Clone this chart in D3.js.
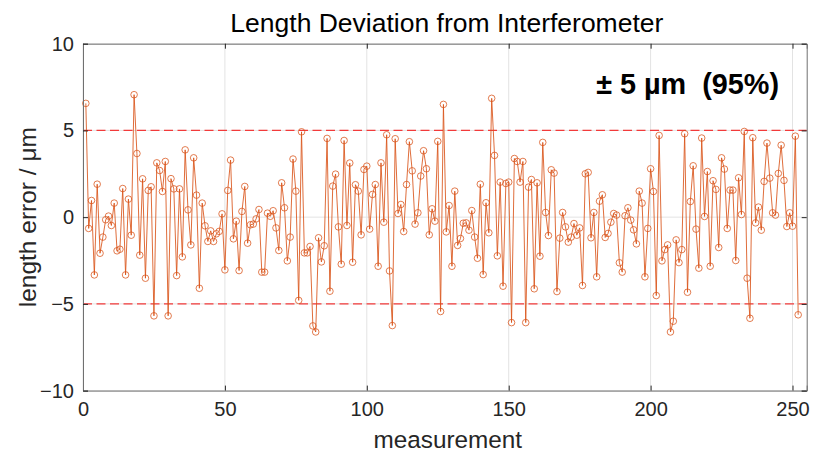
<!DOCTYPE html>
<html><head><meta charset="utf-8">
<script src="https://cdn.jsdelivr.net/npm/d3@7"></script>
<style>
body{margin:0;background:#fff;}
text{font-family:"Liberation Sans",Arial,Helvetica,sans-serif;}
</style></head>
<body><svg id="chart" width="817" height="458"></svg>
<script>
const title = "Length Deviation from Interferometer";
const xLabel = "measurement";
const yLabel = "length error / μm";
const annotation = "± 5 µm  (95%)";
const xTicks = [0, 50, 100, 150, 200, 250];
const yTicks = [-10, -5, 0, 5, 10];
const limits = [-5, 5];
const lengthError = [
 6.56,-0.65,0.96,-3.33,1.9,-2.08,-1.15,-0.15,0.06,-0.48,
 0.81,-1.94,-1.85,1.65,-3.33,1.04,-1.04,7.06,3.67,-2.19,
 2.21,-3.52,1.54,1.75,-5.69,3.13,2.69,1.48,3.21,-5.69,
 2.22,1.63,-3.37,1.63,-2.29,3.88,0.42,-1.6,3.42,1.27,
 -4.1,0.81,-0.5,-1.4,-0.79,-1.4,-0.96,-0.82,0.19,-3.04,
 1.54,3.29,-1.25,-0.23,-3.08,0.33,1.77,-1.5,-0.44,-0.4,
 -0.1,0.44,-3.17,-3.17,0.23,0.05,0.37,-0.62,-1.92,1.98,
 0.54,-2.52,-1.15,3.35,1.5,-4.8,4.92,-2.06,-2.06,-1.69,
 -6.27,-6.62,-1.19,-2.58,-1.65,4.54,-4.27,1.79,2.48,-0.56,
 -2.71,4.42,-0.48,3.12,-2.6,1.87,1.5,-1.02,2.75,2.94,
 -0.69,1.31,1.88,-2.83,3.13,-0.29,4.75,-3.1,-6.25,4.52,
 0.21,0.73,-0.83,1.88,4.35,2.67,-0.4,0.25,2.37,3.83,
 2.79,-1.02,0.48,-0.23,4.37,-5.44,6.5,-0.85,0.67,-2.83,
 1.5,-1.63,-1.23,-0.35,-0.33,-0.75,0.38,-1.15,-2.37,1.9,
 -3.31,0.83,-0.9,6.85,3.56,-2.23,2.02,-3.98,1.94,2.02,
 -6.08,3.38,3.21,2.02,3.21,-6.08,1.73,2.17,-4.13,1.98,
 -2.25,4.31,0.27,-1.06,2.73,2.54,-4.29,-1.21,0.27,-0.56,
 -1.44,-1.15,-0.37,-1.04,-0.62,-3.94,2.5,2.58,-1.19,0.27,
 -3.44,0.92,1.29,-1.17,-0.94,-0.29,0.21,0.12,-2.63,-3.17,
 0.08,0.54,-0.17,-0.73,-1.54,1.5,0.81,-3.44,-0.65,2.79,
 1.48,-4.52,4.71,-2.52,-1.87,-1.6,-6.62,-6.0,-1.31,-2.62,
 -1.87,4.81,-4.33,0.9,2.96,-0.69,-2.94,4.56,0.04,2.63,
 -2.83,2.1,1.6,-1.75,3.42,2.77,-0.65,1.56,1.56,-2.5,
 2.27,0.15,4.94,-3.52,-5.83,4.58,-0.33,0.58,-0.75,2.06,
 4.27,2.25,0.25,0.12,2.52,4.15,2.12,-0.54,0.25,-0.52,
 4.67,-5.63
];
const measurement = lengthError.map((_, i) => i + 1);

const svg = d3.select("#chart");
const L = 83, R = 806.7, T = 43.7, B = 390.6;
const x = d3.scaleLinear().domain([0, 255]).range([L, R]);
const y = d3.scaleLinear().domain([-10, 10]).range([B, T]);
const lineColor = "#d95319";
const axisColor = "#262626";

// grid
const g = svg.append("g");
g.selectAll(".gx").data(xTicks).join("line")
  .attr("x1", d => x(d)).attr("x2", d => x(d)).attr("y1", T).attr("y2", B)
  .attr("stroke", "#e3e3e3").attr("stroke-width", 1);
g.selectAll(".gy").data(yTicks).join("line")
  .attr("x1", L).attr("x2", R).attr("y1", d => y(d)).attr("y2", d => y(d))
  .attr("stroke", "#e3e3e3").attr("stroke-width", 1);

// limit lines
g.selectAll(".lim").data(limits).join("line")
  .attr("x1", L).attr("x2", R).attr("y1", d => y(d)).attr("y2", d => y(d))
  .attr("stroke", "#f23a3a").attr("stroke-width", 1.3).attr("stroke-dasharray", "9,4.5");

// data line
const line = d3.line().x((d, i) => x(measurement[i])).y(d => y(d));
svg.append("path").datum(lengthError)
  .attr("d", line).attr("fill", "none")
  .attr("stroke", lineColor).attr("stroke-width", 1).attr("stroke-opacity", 0.85);
svg.append("g").selectAll("circle").data(lengthError).join("circle")
  .attr("cx", (d, i) => x(measurement[i])).attr("cy", d => y(d)).attr("r", 3.3)
  .attr("fill", "none").attr("stroke", lineColor).attr("stroke-width", 0.9).attr("stroke-opacity", 0.85);

// axes box
const axG = svg.append("g");
axG.append("g").attr("transform", `translate(0,${B})`)
  .call(d3.axisBottom(x).tickValues(xTicks).tickSize(-5).tickPadding(11).tickFormat(d3.format("d")));
axG.append("g").attr("transform", `translate(0,${T})`)
  .call(d3.axisTop(x).tickValues(xTicks).tickSize(-5).tickFormat(""));
axG.append("g").attr("transform", `translate(${L},0)`)
  .call(d3.axisLeft(y).tickValues(yTicks).tickSize(-5).tickPadding(9).tickFormat(d3.format("d")));
axG.append("g").attr("transform", `translate(${R},0)`)
  .call(d3.axisRight(y).tickValues(yTicks).tickSize(-5).tickFormat(""));
axG.selectAll(".domain").attr("stroke", "#707070").attr("stroke-width", 1);
axG.selectAll(".tick line").attr("stroke", axisColor).attr("stroke-width", 1);
axG.selectAll(".tick text").attr("fill", axisColor).style("font-size", "20px")
  .style("font-family", "'Liberation Sans',Arial,sans-serif");

// title & labels
svg.append("text").attr("x", (L + R) / 2 + 2).attr("y", 32).attr("text-anchor", "middle")
  .attr("fill", "#000").style("font-size", "26.5px").text(title);
svg.append("text").attr("x", (L + R) / 2 + 3).attr("y", 448).attr("text-anchor", "middle")
  .attr("fill", axisColor).style("font-size", "24.3px").text(xLabel);
svg.append("text").attr("transform", `translate(36,${(T + B) / 2}) rotate(-90)`)
  .attr("text-anchor", "middle").attr("fill", axisColor).style("font-size", "24.5px").text(yLabel);
svg.append("text").attr("x", 779).attr("y", 94).attr("text-anchor", "end")
  .attr("fill", "#000").style("font-size", "28.8px").style("font-weight", "bold")
  .style("white-space", "pre").attr("xml:space", "preserve").text(annotation);
</script></body></html>
